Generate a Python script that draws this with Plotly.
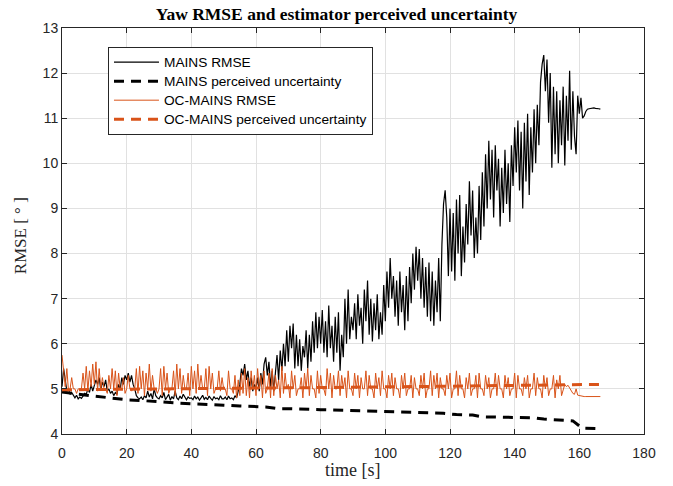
import plotly.graph_objects as go

STEP = 0.5  # sample spacing in seconds

mains_rmse = [
    # 0-10
    5.05, 5.45, 5.20, 4.95, 5.00, 4.88, 4.92, 4.85, 4.80, 4.86, 4.78, 4.82, 4.79, 4.84, 4.90, 4.88, 5.00, 4.92, 5.10, 4.95,
    # 10-20
    5.05, 5.20, 5.10, 5.25, 4.98, 5.15, 5.05, 5.20, 4.95, 5.00, 4.90, 4.95, 4.85, 4.92, 4.88, 5.10, 5.00, 5.25, 5.10, 5.30,
    # 20-30
    5.20, 5.35, 5.15, 5.30, 5.10, 5.00, 4.85, 4.80, 4.78, 4.82, 4.76, 4.85, 4.80, 4.95, 4.82, 4.90, 4.78, 5.00, 4.85, 4.80,
    # 30-40
    4.78, 4.85, 4.80, 4.92, 4.76, 4.82, 4.88, 4.75, 4.83, 4.78, 4.95, 4.80, 4.76, 4.84, 4.78, 4.88, 4.80, 4.76, 4.82, 4.79,
    # 40-50
    4.80, 4.76, 4.84, 4.78, 4.82, 4.75, 4.80, 4.86, 4.77, 4.81, 4.76, 4.84, 4.79, 4.75, 4.83, 4.78, 4.80, 4.76, 4.85, 4.78,
    # 50-60
    4.78, 4.82, 4.76, 4.84, 4.78, 4.80, 4.76, 4.85, 4.80, 4.95, 5.10, 5.45, 5.30, 5.55, 5.20, 5.40, 5.05, 5.25, 4.95, 5.10,
    # 60-70
    5.00, 5.25, 4.95, 5.35, 5.10, 5.55, 5.70, 5.30, 5.60, 5.05, 5.40, 4.95, 5.30, 5.75, 5.20, 5.85, 5.40, 6.00, 5.50, 6.30,
    # 70-80
    5.60, 6.40, 5.90, 6.45, 5.45, 6.20, 5.50, 6.10, 5.40, 5.95, 5.70, 6.30, 5.45, 6.20, 5.60, 6.50, 5.80, 6.70, 5.90, 6.60,
    # 80-90
    6.00, 6.75, 5.80, 6.50, 5.70, 6.85, 5.90, 6.40, 5.60, 6.60, 5.80, 6.70, 5.40, 6.20, 5.70, 7.00, 6.00, 7.20, 6.10, 6.60,
    # 90-100
    6.30, 6.90, 6.10, 7.10, 6.40, 6.80, 6.00, 7.20, 6.50, 7.40, 6.20, 7.00, 6.05, 6.90, 6.30, 7.10, 6.10, 6.70, 6.20, 7.30,
    # 100-110
    6.50, 7.60, 6.80, 7.90, 7.00, 7.50, 6.60, 7.40, 6.40, 7.60, 6.70, 7.30, 6.30, 7.50, 6.50, 7.70, 6.90, 8.00, 7.20, 8.15,
    # 110-120
    7.40, 8.10, 7.00, 7.90, 6.80, 7.70, 6.60, 7.80, 6.50, 7.60, 6.40, 7.40, 6.70, 7.90, 6.50, 8.20, 9.10, 9.40, 8.80, 7.50,
    # 120-130
    9.00, 7.60, 8.90, 7.40, 9.20, 8.00, 9.30, 7.50, 8.60, 7.80, 9.10, 8.20, 9.60, 8.40, 9.40, 7.90, 8.80, 8.00, 9.50, 8.30,
    # 130-140
    9.80, 8.60, 10.20, 9.00, 10.50, 9.20, 10.30, 8.80, 10.40, 9.40, 10.10, 8.60, 9.90, 8.90, 10.30, 9.10, 10.00, 8.70, 10.40, 9.50,
    # 140-150
    10.80, 9.80, 10.95, 9.40, 10.70, 9.00, 10.90, 9.60, 11.10, 9.30, 10.80, 9.80, 11.20, 10.00, 11.30, 10.40, 11.80, 12.20, 12.40, 11.60,
    # 150-160
    12.30, 10.90, 12.00, 9.90, 11.70, 10.20, 11.60, 10.00, 11.40, 10.40, 11.70, 9.95, 11.50, 10.50, 12.05, 10.30, 11.60, 10.60, 10.20, 11.50,
    # 160-166.5
    11.10, 11.45, 11.00, 11.05, 11.15, 11.20, 11.21, 11.22, 11.23, 11.23, 11.22, 11.22, 11.21, 11.20,
]

oc_rmse = [
    # 0-10
    5.75, 5.35, 5.05, 5.45, 4.95, 5.00, 5.25, 5.00, 5.00, 4.90, 5.00, 5.00, 5.00, 5.35, 5.00, 5.50, 4.95, 5.40, 5.05, 5.55,
    # 10-20
    5.10, 5.60, 4.95, 5.45, 5.00, 5.25, 5.00, 5.00, 4.90, 5.30, 5.00, 5.45, 5.00, 5.40, 4.85, 5.35, 5.00, 5.00, 5.25, 4.90,
    # 20-30
    5.00, 5.30, 5.00, 4.95, 5.00, 5.00, 5.45, 4.90, 5.50, 5.00, 5.40, 4.85, 5.35, 5.00, 5.55, 4.95, 5.30, 5.00, 5.00, 4.90,
    # 30-40
    5.00, 5.45, 4.85, 5.50, 5.00, 5.35, 4.90, 5.00, 5.00, 5.40, 4.85, 5.55, 5.00, 5.45, 4.90, 5.30, 5.00, 5.00, 5.35, 4.85,
    # 40-50
    5.50, 5.00, 5.40, 4.90, 5.55, 5.00, 5.30, 5.00, 5.00, 5.45, 4.85, 5.50, 5.00, 5.35, 4.90, 5.00, 5.00, 5.40, 4.95, 5.25,
    # 50-60
    5.00, 5.00, 4.85, 5.40, 5.00, 5.00, 4.90, 5.30, 4.80, 5.20, 4.85, 5.35, 4.90, 5.45, 4.85, 5.25, 4.80, 5.40, 5.00, 5.30,
    # 60-70
    4.85, 5.45, 5.00, 5.30, 4.80, 5.40, 4.90, 5.00, 5.35, 4.80, 5.45, 4.85, 5.30, 5.00, 5.20, 4.80, 5.50, 4.90, 5.35, 5.00,
    # 70-80
    5.10, 4.80, 5.40, 5.00, 5.30, 4.85, 5.00, 5.00, 5.25, 4.80, 5.35, 5.00, 5.45, 4.85, 5.30, 5.00, 5.00, 4.80, 5.40, 4.90,
    # 80-90
    5.30, 5.00, 5.00, 4.85, 5.45, 5.00, 5.35, 4.80, 5.30, 5.00, 5.00, 5.40, 4.85, 5.30, 5.00, 5.25, 4.80, 5.40, 5.00, 5.00,
    # 90-100
    4.85, 5.35, 5.00, 5.30, 4.80, 5.25, 5.00, 5.00, 5.40, 4.85, 5.30, 5.00, 5.00, 4.80, 5.35, 5.00, 5.25, 4.85, 5.40, 5.00,
    # 100-110
    5.00, 4.80, 5.30, 5.00, 5.35, 4.85, 5.25, 5.00, 5.00, 4.80, 5.30, 5.00, 5.35, 4.85, 5.00, 5.00, 5.30, 4.80, 5.25, 5.00,
    # 110-120
    5.00, 4.85, 5.30, 5.00, 5.35, 4.80, 5.00, 5.00, 5.40, 4.85, 5.30, 5.00, 5.35, 4.80, 5.25, 5.00, 5.00, 4.85, 5.30, 5.00,
    # 120-130
    5.35, 4.80, 5.00, 5.00, 5.40, 4.85, 5.30, 5.00, 5.00, 4.80, 5.25, 5.00, 5.35, 4.85, 5.00, 5.00, 5.30, 4.80, 5.35, 5.00,
    # 130-140
    5.00, 4.85, 5.30, 5.00, 5.25, 4.80, 5.00, 5.00, 5.35, 4.85, 5.30, 5.00, 5.00, 4.80, 5.30, 5.00, 5.25, 4.85, 5.00, 5.00,
    # 140-150
    5.35, 4.80, 5.30, 5.00, 5.00, 4.85, 5.25, 5.00, 5.30, 4.80, 5.00, 5.00, 5.35, 4.85, 5.25, 5.00, 5.00, 4.80, 5.30, 5.00,
    # 150-160
    5.25, 4.85, 5.00, 5.00, 5.30, 4.80, 5.20, 5.00, 5.30, 4.85, 5.00, 5.10, 5.05, 5.08, 5.02, 4.95, 4.90, 4.88, 5.00, 4.86,
    # 160-166.5
    4.85, 4.84, 4.83, 4.83, 4.83, 4.83, 4.83, 4.83, 4.83, 4.83, 4.83, 4.83, 4.83, 4.83,
]

mains_unc_t = [0, 5, 10, 15, 20, 25, 30, 35, 40, 45, 50, 55, 60, 63, 67, 70, 80, 90, 100, 110, 118, 122, 127, 130,
               140, 146, 149, 155, 158, 160, 161, 165.5]
mains_unc = [4.93, 4.88, 4.84, 4.80, 4.76, 4.74, 4.71, 4.69, 4.67, 4.66, 4.64, 4.62, 4.61, 4.60, 4.56, 4.56, 4.54,
             4.52, 4.50, 4.48, 4.46, 4.43, 4.42, 4.38, 4.37, 4.36, 4.33, 4.31, 4.29, 4.18, 4.13, 4.12]

oc_unc_t = [0, 40, 80, 120, 160, 167]
oc_unc = [4.98, 5.00, 5.03, 5.06, 5.09, 5.10]

series_names = ["MAINS RMSE", "MAINS perceived uncertainty", "OC-MAINS RMSE", "OC-MAINS perceived uncertainty"]

t_rmse = [i * STEP for i in range(len(mains_rmse))]
t_oc = [i * STEP for i in range(len(oc_rmse))]

ORANGE = "#D95319"
AX = "#262626"
GRID = "#e1e1e1"
SERIF = "Liberation Serif, Times New Roman, serif"
SANS = "Liberation Sans, Arial, sans-serif"


def lname(s):
    return '<span style="font-size:13.7px">' + s + '</span>'


fig = go.Figure()
fig.add_trace(go.Scatter(x=t_rmse, y=mains_rmse, mode="lines", name=lname(series_names[0]),
                         line=dict(color="black", width=1.2)))
fig.add_trace(go.Scatter(x=mains_unc_t, y=mains_unc, mode="lines", name=lname(series_names[1]),
                         line=dict(color="black", width=3, dash="10px,7px")))
fig.add_trace(go.Scatter(x=t_oc, y=oc_rmse, mode="lines", name=lname(series_names[2]),
                         line=dict(color=ORANGE, width=1)))
fig.add_trace(go.Scatter(x=oc_unc_t, y=oc_unc, mode="lines", name=lname(series_names[3]),
                         line=dict(color=ORANGE, width=3, dash="10px,7px")))

axis_common = dict(showline=True, linecolor=AX, linewidth=1, mirror="ticks", ticks="inside", ticklen=5,
                   tickcolor=AX, showgrid=True, gridcolor=GRID, gridwidth=1, zeroline=False,
                   tickfont=dict(family=SANS, size=14, color=AX))

fig.update_xaxes(range=[0, 180], tickmode="linear", tick0=0, dtick=20, ticklabelstandoff=6, **axis_common)
fig.update_yaxes(range=[4, 13], tickmode="linear", tick0=4, dtick=1, **axis_common)

fig.update_layout(
    width=673, height=486,
    margin=dict(l=62, r=29, t=28, b=52),
    paper_bgcolor="white", plot_bgcolor="white",
    title=dict(text="<b>Yaw RMSE and estimator perceived uncertainty</b>",
               font=dict(family=SERIF, size=17.5, color="black"),
               x=0.5, xref="container", xanchor="center", y=1 - 14 / 486, yanchor="middle"),
    legend=dict(x=0.079, y=0.954, xanchor="left", yanchor="top",
                bgcolor="white", bordercolor=AX, borderwidth=1,
                font=dict(family=SANS, size=12, color="black"),
                itemwidth=45, tracegroupgap=0),
    showlegend=True,
    annotations=[
        dict(text="time [s]", xref="paper", yref="paper", x=0.5, y=-(470 - 434.3) / 406.6,
             xanchor="center", yanchor="middle", showarrow=False,
             font=dict(family=SERIF, size=18, color=AX)),
        dict(text="RMSE [ ° ]", xref="paper", yref="paper", x=-(62.3 - 21.7) / 581.7, y=1 - (236 - 27.7) / 406.6,
             xanchor="center", yanchor="middle", showarrow=False, textangle=-90,
             font=dict(family=SERIF, size=17, color=AX)),
    ],
)

fig.write_html("out.html")
